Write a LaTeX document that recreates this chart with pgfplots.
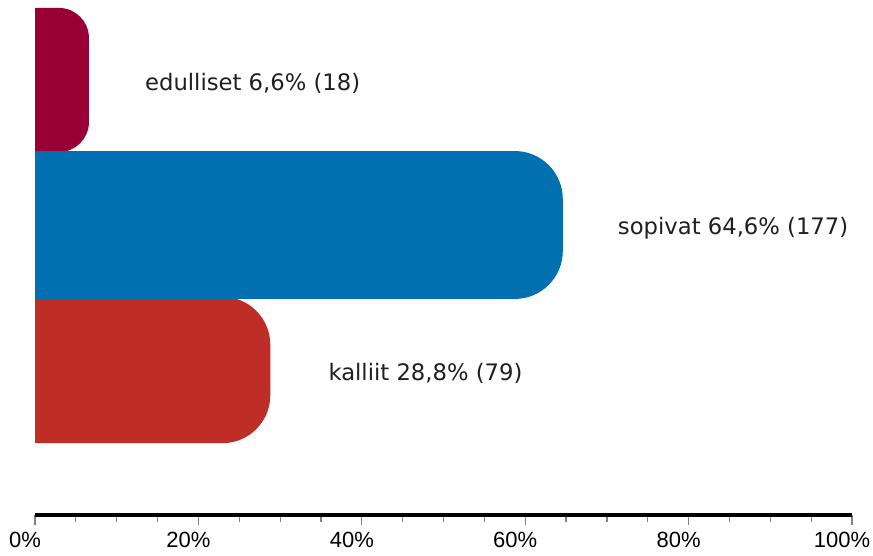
\documentclass[border=0pt]{standalone}
\usepackage{fontspec}
\setmainfont{Liberation Sans}
\newfontfamily\lbl{DejaVu Sans}
\usepackage{pgfplots}
\pgfplotsset{compat=1.18}
\definecolor{cEd}{RGB}{153,0,51}
\definecolor{cSo}{RGB}{0,112,176}
\definecolor{cKa}{RGB}{190,46,38}
\begin{document}
\begin{tikzpicture}[x=1pt,y=1pt]
\begin{axis}[
  at={(35pt,41pt)}, anchor=south west,
  scale only axis, width=817pt, height=507.5pt,
  xmin=0, xmax=100, ymin=-1, ymax=2.5,
  axis x line*=bottom, axis y line=none, ytick=\empty,
  x axis line style={line width=3.8pt, black, -},
  xtick={0,20,40,60,80,100},
  xticklabels={0\%,20\%,40\%,60\%,80\%,100\%},
  minor x tick num=3,
  tick align=outside,
  major tick length=10pt, minor tick length=7pt,
  every tick/.style={gray, line width=1.2pt},
  xticklabel style={font=\fontsize{22}{26}\selectfont, xshift=-10pt, yshift=-4pt, text=black},
]
\addplot[fill=cKa, draw=none, rounded corners=48pt] coordinates {(-30,0.505) (28.8,0.505) (28.8,-0.505) (-30,-0.505)};
\addplot[fill=cEd, draw=none, rounded corners=30pt] coordinates {(-30,2.497) (6.6,2.497) (6.6,1.503) (-30,1.503)};
\addplot[fill=cSo, draw=none, rounded corners=48pt] coordinates {(-30,1.51) (64.6,1.51) (64.6,0.49) (-30,0.49)};
\node[anchor=west, inner sep=0pt, xshift=56pt, yshift=-3pt, text=black!88, font=\lbl\fontsize{22.7}{27}\selectfont] at (axis cs:6.6,2) {edulliset 6,6\% (18)};
\node[anchor=west, inner sep=0pt, xshift=55pt, yshift=-3pt, text=black!88, font=\lbl\fontsize{22.7}{27}\selectfont] at (axis cs:64.6,1) {sopivat 64,6\% (177)};
\node[anchor=west, inner sep=0pt, xshift=58pt, yshift=-3pt, text=black!88, font=\lbl\fontsize{22.7}{27}\selectfont] at (axis cs:28.8,0) {kalliit 28,8\% (79)};
\end{axis}
\pgfresetboundingbox
\path[use as bounding box] (0,0) rectangle (873,556);
\end{tikzpicture}
\end{document}
